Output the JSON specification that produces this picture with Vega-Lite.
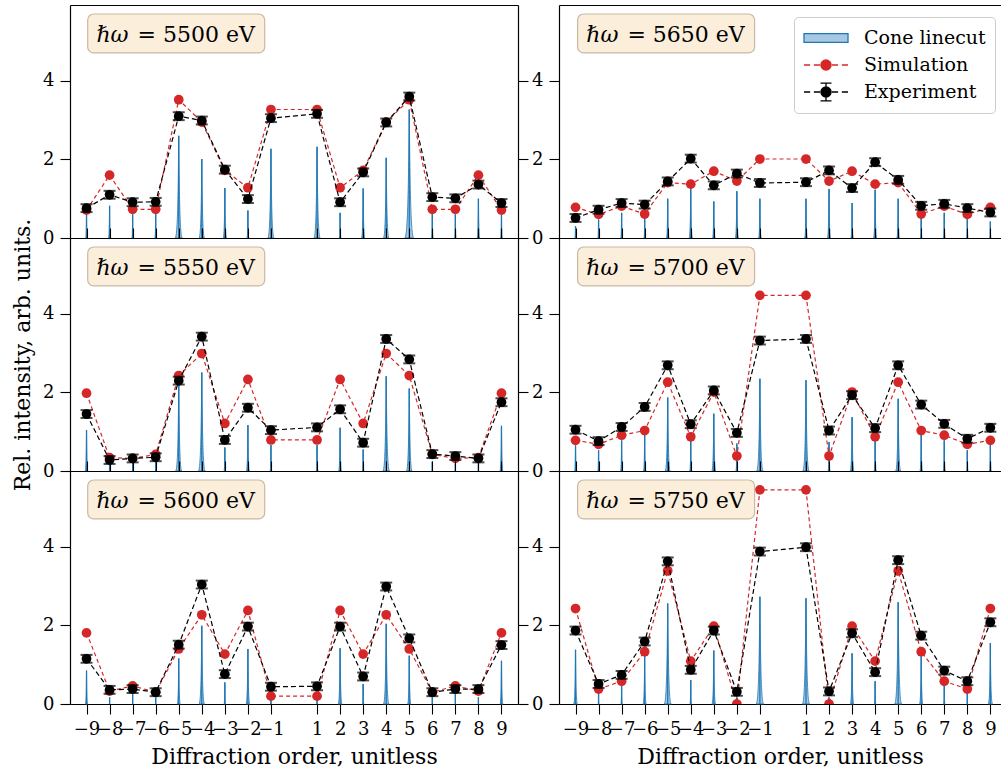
{
"$schema": "https://vega.github.io/schema/vega-lite/v6.json",
"padding": {"left": 11, "top": 5, "right": 0, "bottom": 0},
"autosize": {"type": "pad"},
"bounds": "flush",
"spacing": {"row": 0, "column": 41},
"columns": 2,
"data": {"values": [
{"p":5500,"o":-9,"c":0.62,"s":0.71,"e":0.76,"err":0.1},
{"p":5500,"o":-8,"c":0.82,"s":1.60,"e":1.10,"err":0.1},
{"p":5500,"o":-7,"c":0.60,"s":0.73,"e":0.91,"err":0.1},
{"p":5500,"o":-6,"c":0.65,"s":0.73,"e":0.92,"err":0.1},
{"p":5500,"o":-5,"c":2.60,"s":3.52,"e":3.10,"err":0.1},
{"p":5500,"o":-4,"c":2.01,"s":2.95,"e":2.99,"err":0.1},
{"p":5500,"o":-3,"c":1.27,"s":1.72,"e":1.74,"err":0.1},
{"p":5500,"o":-2,"c":0.70,"s":1.28,"e":0.99,"err":0.1},
{"p":5500,"o":-1,"c":2.27,"s":3.27,"e":3.05,"err":0.1},
{"p":5500,"o":1,"c":2.32,"s":3.27,"e":3.16,"err":0.1},
{"p":5500,"o":2,"c":0.64,"s":1.28,"e":0.91,"err":0.1},
{"p":5500,"o":3,"c":1.26,"s":1.72,"e":1.67,"err":0.1},
{"p":5500,"o":4,"c":2.04,"s":2.95,"e":2.94,"err":0.1},
{"p":5500,"o":5,"c":3.27,"s":3.52,"e":3.60,"err":0.1},
{"p":5500,"o":6,"c":0.64,"s":0.73,"e":1.04,"err":0.1},
{"p":5500,"o":7,"c":0.60,"s":0.73,"e":1.01,"err":0.1},
{"p":5500,"o":8,"c":1.00,"s":1.60,"e":1.36,"err":0.1},
{"p":5500,"o":9,"c":0.60,"s":0.71,"e":0.89,"err":0.1},
{"p":5650,"o":-9,"c":0.30,"s":0.78,"e":0.51,"err":0.1},
{"p":5650,"o":-8,"c":0.47,"s":0.60,"e":0.72,"err":0.1},
{"p":5650,"o":-7,"c":0.64,"s":0.81,"e":0.89,"err":0.1},
{"p":5650,"o":-6,"c":0.51,"s":0.61,"e":0.85,"err":0.1},
{"p":5650,"o":-5,"c":1.00,"s":1.41,"e":1.44,"err":0.1},
{"p":5650,"o":-4,"c":1.27,"s":1.37,"e":2.02,"err":0.1},
{"p":5650,"o":-3,"c":0.93,"s":1.70,"e":1.34,"err":0.1},
{"p":5650,"o":-2,"c":1.19,"s":1.45,"e":1.64,"err":0.1},
{"p":5650,"o":-1,"c":1.00,"s":2.01,"e":1.40,"err":0.1},
{"p":5650,"o":1,"c":1.00,"s":2.01,"e":1.42,"err":0.1},
{"p":5650,"o":2,"c":1.25,"s":1.45,"e":1.72,"err":0.1},
{"p":5650,"o":3,"c":0.89,"s":1.70,"e":1.27,"err":0.1},
{"p":5650,"o":4,"c":1.23,"s":1.37,"e":1.93,"err":0.1},
{"p":5650,"o":5,"c":1.00,"s":1.41,"e":1.48,"err":0.1},
{"p":5650,"o":6,"c":0.55,"s":0.61,"e":0.82,"err":0.1},
{"p":5650,"o":7,"c":0.64,"s":0.81,"e":0.87,"err":0.1},
{"p":5650,"o":8,"c":0.51,"s":0.60,"e":0.76,"err":0.1},
{"p":5650,"o":9,"c":0.42,"s":0.78,"e":0.65,"err":0.1},
{"p":5550,"o":-9,"c":1.04,"s":1.98,"e":1.45,"err":0.1},
{"p":5550,"o":-8,"c":0.20,"s":0.34,"e":0.28,"err":0.1},
{"p":5550,"o":-7,"c":0.20,"s":0.32,"e":0.32,"err":0.1},
{"p":5550,"o":-6,"c":0.24,"s":0.42,"e":0.35,"err":0.1},
{"p":5550,"o":-5,"c":2.25,"s":2.43,"e":2.30,"err":0.1},
{"p":5550,"o":-4,"c":2.51,"s":2.99,"e":3.42,"err":0.1},
{"p":5550,"o":-3,"c":0.60,"s":1.21,"e":0.79,"err":0.1},
{"p":5550,"o":-2,"c":1.17,"s":2.33,"e":1.61,"err":0.1},
{"p":5550,"o":-1,"c":0.66,"s":0.79,"e":1.04,"err":0.1},
{"p":5550,"o":1,"c":0.66,"s":0.79,"e":1.11,"err":0.1},
{"p":5550,"o":2,"c":1.10,"s":2.33,"e":1.57,"err":0.1},
{"p":5550,"o":3,"c":0.55,"s":1.21,"e":0.72,"err":0.1},
{"p":5550,"o":4,"c":2.41,"s":2.99,"e":3.36,"err":0.1},
{"p":5550,"o":5,"c":2.10,"s":2.43,"e":2.84,"err":0.1},
{"p":5550,"o":6,"c":0.24,"s":0.42,"e":0.43,"err":0.1},
{"p":5550,"o":7,"c":0.20,"s":0.32,"e":0.38,"err":0.1},
{"p":5550,"o":8,"c":0.20,"s":0.34,"e":0.32,"err":0.1},
{"p":5550,"o":9,"c":1.15,"s":1.98,"e":1.75,"err":0.1},
{"p":5700,"o":-9,"c":0.65,"s":0.78,"e":1.05,"err":0.1},
{"p":5700,"o":-8,"c":0.53,"s":0.68,"e":0.76,"err":0.1},
{"p":5700,"o":-7,"c":0.78,"s":0.91,"e":1.12,"err":0.1},
{"p":5700,"o":-6,"c":0.95,"s":1.03,"e":1.63,"err":0.1},
{"p":5700,"o":-5,"c":1.87,"s":2.26,"e":2.69,"err":0.1},
{"p":5700,"o":-4,"c":0.78,"s":0.87,"e":1.19,"err":0.1},
{"p":5700,"o":-3,"c":1.46,"s":2.01,"e":2.05,"err":0.1},
{"p":5700,"o":-2,"c":0.70,"s":0.38,"e":0.97,"err":0.1},
{"p":5700,"o":-1,"c":2.35,"s":4.47,"e":3.32,"err":0.1},
{"p":5700,"o":1,"c":2.31,"s":4.47,"e":3.36,"err":0.1},
{"p":5700,"o":2,"c":0.74,"s":0.38,"e":1.03,"err":0.1},
{"p":5700,"o":3,"c":1.37,"s":2.01,"e":1.93,"err":0.1},
{"p":5700,"o":4,"c":0.78,"s":0.87,"e":1.09,"err":0.1},
{"p":5700,"o":5,"c":1.84,"s":2.26,"e":2.69,"err":0.1},
{"p":5700,"o":6,"c":0.95,"s":1.03,"e":1.69,"err":0.1},
{"p":5700,"o":7,"c":0.78,"s":0.91,"e":1.20,"err":0.1},
{"p":5700,"o":8,"c":0.53,"s":0.68,"e":0.82,"err":0.1},
{"p":5700,"o":9,"c":0.74,"s":0.78,"e":1.10,"err":0.1},
{"p":5600,"o":-9,"c":0.85,"s":1.81,"e":1.15,"err":0.1},
{"p":5600,"o":-8,"c":0.17,"s":0.33,"e":0.36,"err":0.1},
{"p":5600,"o":-7,"c":0.25,"s":0.46,"e":0.38,"err":0.1},
{"p":5600,"o":-6,"c":0.17,"s":0.30,"e":0.30,"err":0.1},
{"p":5600,"o":-5,"c":1.16,"s":1.40,"e":1.51,"err":0.1},
{"p":5600,"o":-4,"c":1.99,"s":2.27,"e":3.04,"err":0.1},
{"p":5600,"o":-3,"c":0.55,"s":1.27,"e":0.76,"err":0.1},
{"p":5600,"o":-2,"c":1.40,"s":2.38,"e":1.97,"err":0.1},
{"p":5600,"o":-1,"c":0.17,"s":0.20,"e":0.44,"err":0.1},
{"p":5600,"o":1,"c":0.17,"s":0.20,"e":0.45,"err":0.1},
{"p":5600,"o":2,"c":1.42,"s":2.38,"e":1.97,"err":0.1},
{"p":5600,"o":3,"c":0.51,"s":1.27,"e":0.70,"err":0.1},
{"p":5600,"o":4,"c":2.04,"s":2.27,"e":2.99,"err":0.1},
{"p":5600,"o":5,"c":1.23,"s":1.40,"e":1.67,"err":0.1},
{"p":5600,"o":6,"c":0.17,"s":0.30,"e":0.30,"err":0.1},
{"p":5600,"o":7,"c":0.25,"s":0.46,"e":0.38,"err":0.1},
{"p":5600,"o":8,"c":0.17,"s":0.33,"e":0.38,"err":0.1},
{"p":5600,"o":9,"c":1.10,"s":1.81,"e":1.50,"err":0.1},
{"p":5750,"o":-9,"c":1.38,"s":2.43,"e":1.87,"err":0.1},
{"p":5750,"o":-8,"c":0.30,"s":0.38,"e":0.51,"err":0.1},
{"p":5750,"o":-7,"c":0.51,"s":0.58,"e":0.74,"err":0.1},
{"p":5750,"o":-6,"c":1.23,"s":1.33,"e":1.59,"err":0.1},
{"p":5750,"o":-5,"c":2.56,"s":3.39,"e":3.63,"err":0.1},
{"p":5750,"o":-4,"c":0.61,"s":1.09,"e":0.87,"err":0.1},
{"p":5750,"o":-3,"c":1.36,"s":1.98,"e":1.87,"err":0.1},
{"p":5750,"o":-2,"c":0.17,"s":0.0,"e":0.31,"err":0.1},
{"p":5750,"o":-1,"c":2.73,"s":5.45,"e":3.88,"err":0.1},
{"p":5750,"o":1,"c":2.69,"s":5.45,"e":3.99,"err":0.1},
{"p":5750,"o":2,"c":0.17,"s":0.0,"e":0.32,"err":0.1},
{"p":5750,"o":3,"c":1.29,"s":1.98,"e":1.80,"err":0.1},
{"p":5750,"o":4,"c":0.58,"s":1.09,"e":0.81,"err":0.1},
{"p":5750,"o":5,"c":2.59,"s":3.39,"e":3.66,"err":0.1},
{"p":5750,"o":6,"c":1.27,"s":1.33,"e":1.74,"err":0.1},
{"p":5750,"o":7,"c":0.51,"s":0.58,"e":0.85,"err":0.1},
{"p":5750,"o":8,"c":0.34,"s":0.38,"e":0.58,"err":0.1},
{"p":5750,"o":9,"c":1.55,"s":2.43,"e":2.08,"err":0.1}
]},
"concat": [
{"width":448,"height":233,
 "transform":[{"filter":"datum.p == 5500"}],
 "layer":[
  {"mark":{"type":"point","shape":"M-0.07,2C-0.03,2,-0.012,1.4,0,0C0.012,1.4,0.03,2,0.07,2Z","filled":true,"fill":"#a6c8e3","stroke":"#1f77b4","strokeWidth":0.8,"opacity":1},
   "encoding":{"x":{"field":"o","type":"quantitative","scale":{"domain":[-9.5,9.5],"nice":false,"zero":false},"axis":{"orient":"bottom","ticks":false,"labels":false,"title":null}},
     "y":{"field":"c","type":"quantitative","scale":{"domain":[0,5.93],"nice":false,"zero":false},"axis":{"orient":"left","values":[0,2,4],"title":null}},
     "size":{"field":"c","type":"quantitative","scale":{"type":"pow","exponent":2,"domain":[0,6],"range":[0,55577]},"legend":null}}},
  {"mark":{"type":"bar","color":"#1f77b4","size":1.3},
   "encoding":{"x":{"field":"o","type":"quantitative","scale":{"domain":[-9.5,9.5],"nice":false,"zero":false},"axis":{"orient":"top","ticks":false,"labels":false,"title":null}},
     "y":{"field":"c","type":"quantitative","scale":{"domain":[0,5.93],"nice":false,"zero":false},"axis":{"orient":"right","values":[0,2,4],"labels":false,"title":null}}}},
  {"mark":{"type":"line","color":"#d62728","strokeWidth":1.2,"strokeDash":[4,3]},
   "encoding":{"x":{"field":"o","type":"quantitative","axis":null},"y":{"field":"s","type":"quantitative","axis":null}}},
  {"mark":{"type":"point","filled":true,"color":"#d62728","size":95,"opacity":1,"clip":true},
   "encoding":{"x":{"field":"o","type":"quantitative","axis":null},"y":{"field":"s","type":"quantitative","axis":null}}},
  {"mark":{"type":"line","color":"black","strokeWidth":1.2,"strokeDash":[5,3]},
   "encoding":{"x":{"field":"o","type":"quantitative","axis":null},"y":{"field":"e","type":"quantitative","axis":null}}},
  {"mark":{"type":"errorbar","color":"black","thickness":2,"ticks":{"size":12,"thickness":2,"color":"black"}},
   "encoding":{"x":{"field":"o","type":"quantitative","axis":null},"y":{"field":"e","type":"quantitative","axis":null},"yError":{"field":"err"}}},
  {"mark":{"type":"point","filled":true,"color":"black","size":95,"opacity":1},
   "encoding":{"x":{"field":"o","type":"quantitative","axis":null},"y":{"field":"e","type":"quantitative","axis":null}}},
  {"data":{"values":[{"p":5500,"t":"= 5500 eV"}]},
   "mark":{"type":"point","shape":"M-0.932,-0.22H0.932A0.068,0.068,0,0,1,1,-0.152V0.152A0.068,0.068,0,0,1,0.932,0.22H-0.932A0.068,0.068,0,0,1,-1,0.152V-0.152A0.068,0.068,0,0,1,-0.932,-0.22Z","size":31329,"filled":true,"fill":"#fbeedb","stroke":"#c9b9a6","strokeWidth":1.2,"opacity":1},
   "encoding":{"x":{"datum":-5.11,"type":"quantitative","axis":null},"y":{"datum":5.205,"type":"quantitative","axis":null}}},
  {"data":{"values":[{"p":5500,"t":"= 5500 eV"}]},
   "mark":{"type":"text","text":"ℏω","font":"DejaVu Serif","fontStyle":"italic","fontSize":22,"align":"left","baseline":"alphabetic","color":"black"},
   "encoding":{"x":{"datum":-8.57,"type":"quantitative","axis":null},"y":{"datum":5.0,"type":"quantitative","axis":null}}},
  {"data":{"values":[{"p":5500,"t":"= 5500 eV"}]},
   "mark":{"type":"text","font":"DejaVu Serif","fontSize":22,"align":"left","baseline":"alphabetic","color":"black"},
   "encoding":{"x":{"datum":-6.79,"type":"quantitative","axis":null},"y":{"datum":5.0,"type":"quantitative","axis":null},"text":{"field":"t"}}}
 ],
 "resolve":{"axis":{"x":"independent","y":"independent"}}},

{"width":442,"height":233,
 "transform":[{"filter":"datum.p == 5650"}],
 "layer":[
  {"mark":{"type":"point","shape":"M-0.07,2C-0.03,2,-0.012,1.4,0,0C0.012,1.4,0.03,2,0.07,2Z","filled":true,"fill":"#a6c8e3","stroke":"#1f77b4","strokeWidth":0.8,"opacity":1},
   "encoding":{"x":{"field":"o","type":"quantitative","scale":{"domain":[-9.5,9.245],"nice":false,"zero":false},"axis":{"orient":"bottom","ticks":false,"labels":false,"title":null}},
     "y":{"field":"c","type":"quantitative","scale":{"domain":[0,5.93],"nice":false,"zero":false},"axis":{"orient":"left","values":[0,2,4],"title":null}},
     "size":{"field":"c","type":"quantitative","scale":{"type":"pow","exponent":2,"domain":[0,6],"range":[0,55577]},"legend":null}}},
  {"mark":{"type":"bar","color":"#1f77b4","size":1.3},
   "encoding":{"x":{"field":"o","type":"quantitative","scale":{"domain":[-9.5,9.245],"nice":false,"zero":false},"axis":{"orient":"top","ticks":false,"labels":false,"title":null}},
     "y":{"field":"c","type":"quantitative","scale":{"domain":[0,5.93],"nice":false,"zero":false},"axis":null}}},
  {"mark":{"type":"line","color":"#d62728","strokeWidth":1.2,"strokeDash":[4,3]},
   "encoding":{"x":{"field":"o","type":"quantitative","axis":null},"y":{"field":"s","type":"quantitative","axis":null}}},
  {"mark":{"type":"point","filled":true,"color":"#d62728","size":95,"opacity":1,"clip":true},
   "encoding":{"x":{"field":"o","type":"quantitative","axis":null},"y":{"field":"s","type":"quantitative","axis":null}}},
  {"mark":{"type":"line","color":"black","strokeWidth":1.2,"strokeDash":[5,3]},
   "encoding":{"x":{"field":"o","type":"quantitative","axis":null},"y":{"field":"e","type":"quantitative","axis":null}}},
  {"mark":{"type":"errorbar","color":"black","thickness":2,"ticks":{"size":12,"thickness":2,"color":"black"}},
   "encoding":{"x":{"field":"o","type":"quantitative","axis":null},"y":{"field":"e","type":"quantitative","axis":null},"yError":{"field":"err"}}},
  {"mark":{"type":"point","filled":true,"color":"black","size":95,"opacity":1},
   "encoding":{"x":{"field":"o","type":"quantitative","axis":null},"y":{"field":"e","type":"quantitative","axis":null}}},
  {"mark":{"type":"point","filled":true,"opacity":0},
   "encoding":{
     "fill":{"datum":"Cone linecut","type":"nominal","scale":{"domain":["Cone linecut","Simulation","Experiment"],"range":["#a6c8e3","#d62728","black"]},"legend":{"title":null,"orient":"none","legendX":724,"legendY":12,"padding":9,"rowPadding":5,"symbolSize":484,"labelOffset":37,"labelFont":"DejaVu Serif","labelFontSize":19,"labelColor":"black","strokeColor":"#cccccc","fillColor":"rgba(255,255,255,0.85)","cornerRadius":4,"symbolStrokeWidth":1.3,"symbolOpacity":1}},
     "stroke":{"datum":"Cone linecut","type":"nominal","scale":{"domain":["Cone linecut","Simulation","Experiment"],"range":["#1f77b4","#d62728","black"]},"legend":{"title":null,"orient":"none","legendX":724,"legendY":12,"padding":9,"rowPadding":5,"symbolSize":484,"labelOffset":37,"labelFont":"DejaVu Serif","labelFontSize":19,"labelColor":"black","strokeColor":"#cccccc","fillColor":"rgba(255,255,255,0.85)","cornerRadius":4,"symbolStrokeWidth":1.3,"symbolOpacity":1}},
     "shape":{"datum":"Cone linecut","type":"nominal","scale":{"domain":["Cone linecut","Simulation","Experiment"],"range":["M-1,-0.4H3V0.4H-1Z","M-1,0H-0.44M-0.1,0H0.46M1.54,0H2.1M2.44,0H3M0.54,0A0.46,0.46,0,1,1,1.46,0A0.46,0.46,0,1,1,0.54,0Z","M-1,0H-0.44M-0.1,0H0.46M1.54,0H2.1M2.44,0H3M1,-0.8V0.8M0.5,-0.8H1.5M0.5,0.8H1.5M0.54,0A0.46,0.46,0,1,1,1.46,0A0.46,0.46,0,1,1,0.54,0Z"]},"legend":{"title":null,"orient":"none","legendX":724,"legendY":12,"padding":9,"rowPadding":5,"symbolSize":484,"labelOffset":37,"labelFont":"DejaVu Serif","labelFontSize":19,"labelColor":"black","strokeColor":"#cccccc","fillColor":"rgba(255,255,255,0.85)","cornerRadius":4,"symbolStrokeWidth":1.3,"symbolOpacity":1}}}},
  {"mark":{"type":"point","filled":true,"opacity":0},
   "encoding":{"fill":{"datum":"Simulation","type":"nominal"},"stroke":{"datum":"Simulation","type":"nominal"},"shape":{"datum":"Simulation","type":"nominal"}}},
  {"mark":{"type":"point","filled":true,"opacity":0},
   "encoding":{"fill":{"datum":"Experiment","type":"nominal"},"stroke":{"datum":"Experiment","type":"nominal"},"shape":{"datum":"Experiment","type":"nominal"}}},
  {"data":{"values":[{"p":5650,"t":"= 5650 eV"}]},
   "mark":{"type":"point","shape":"M-0.932,-0.22H0.932A0.068,0.068,0,0,1,1,-0.152V0.152A0.068,0.068,0,0,1,0.932,0.22H-0.932A0.068,0.068,0,0,1,-1,0.152V-0.152A0.068,0.068,0,0,1,-0.932,-0.22Z","size":31329,"filled":true,"fill":"#fbeedb","stroke":"#c9b9a6","strokeWidth":1.2,"opacity":1},
   "encoding":{"x":{"datum":-5.07,"type":"quantitative","axis":null},"y":{"datum":5.205,"type":"quantitative","axis":null}}},
  {"data":{"values":[{"p":5650,"t":"= 5650 eV"}]},
   "mark":{"type":"text","text":"ℏω","font":"DejaVu Serif","fontStyle":"italic","fontSize":22,"align":"left","baseline":"alphabetic","color":"black"},
   "encoding":{"x":{"datum":-8.53,"type":"quantitative","axis":null},"y":{"datum":5.0,"type":"quantitative","axis":null}}},
  {"data":{"values":[{"p":5650,"t":"= 5650 eV"}]},
   "mark":{"type":"text","font":"DejaVu Serif","fontSize":22,"align":"left","baseline":"alphabetic","color":"black"},
   "encoding":{"x":{"datum":-6.75,"type":"quantitative","axis":null},"y":{"datum":5.0,"type":"quantitative","axis":null},"text":{"field":"t"}}}
 ],
 "resolve":{"axis":{"x":"independent","y":"independent"}}},

{"width":448,"height":233,
 "transform":[{"filter":"datum.p == 5550"}],
 "layer":[
  {"mark":{"type":"point","shape":"M-0.07,2C-0.03,2,-0.012,1.4,0,0C0.012,1.4,0.03,2,0.07,2Z","filled":true,"fill":"#a6c8e3","stroke":"#1f77b4","strokeWidth":0.8,"opacity":1},
   "encoding":{"x":{"field":"o","type":"quantitative","scale":{"domain":[-9.5,9.5],"nice":false,"zero":false},"axis":{"orient":"bottom","ticks":false,"labels":false,"title":null}},
     "y":{"field":"c","type":"quantitative","scale":{"domain":[0,5.93],"nice":false,"zero":false},"axis":{"orient":"left","values":[0,2,4],"title":"Rel. intensity, arb. units."}},
     "size":{"field":"c","type":"quantitative","scale":{"type":"pow","exponent":2,"domain":[0,6],"range":[0,55577]},"legend":null}}},
  {"mark":{"type":"bar","color":"#1f77b4","size":1.3},
   "encoding":{"x":{"field":"o","type":"quantitative","scale":{"domain":[-9.5,9.5],"nice":false,"zero":false},"axis":{"orient":"top","values":[-9,-8,-7,-6,-5,-4,-3,-2,-1,1,2,3,4,5,6,7,8,9],"labels":false,"title":null}},
     "y":{"field":"c","type":"quantitative","scale":{"domain":[0,5.93],"nice":false,"zero":false},"axis":{"orient":"right","values":[0,2,4],"labels":false,"title":null}}}},
  {"mark":{"type":"line","color":"#d62728","strokeWidth":1.2,"strokeDash":[4,3]},
   "encoding":{"x":{"field":"o","type":"quantitative","axis":null},"y":{"field":"s","type":"quantitative","axis":null}}},
  {"mark":{"type":"point","filled":true,"color":"#d62728","size":95,"opacity":1,"clip":true},
   "encoding":{"x":{"field":"o","type":"quantitative","axis":null},"y":{"field":"s","type":"quantitative","axis":null}}},
  {"mark":{"type":"line","color":"black","strokeWidth":1.2,"strokeDash":[5,3]},
   "encoding":{"x":{"field":"o","type":"quantitative","axis":null},"y":{"field":"e","type":"quantitative","axis":null}}},
  {"mark":{"type":"errorbar","color":"black","thickness":2,"ticks":{"size":12,"thickness":2,"color":"black"}},
   "encoding":{"x":{"field":"o","type":"quantitative","axis":null},"y":{"field":"e","type":"quantitative","axis":null},"yError":{"field":"err"}}},
  {"mark":{"type":"point","filled":true,"color":"black","size":95,"opacity":1},
   "encoding":{"x":{"field":"o","type":"quantitative","axis":null},"y":{"field":"e","type":"quantitative","axis":null}}},
  {"data":{"values":[{"p":5550,"t":"= 5550 eV"}]},
   "mark":{"type":"point","shape":"M-0.932,-0.22H0.932A0.068,0.068,0,0,1,1,-0.152V0.152A0.068,0.068,0,0,1,0.932,0.22H-0.932A0.068,0.068,0,0,1,-1,0.152V-0.152A0.068,0.068,0,0,1,-0.932,-0.22Z","size":31329,"filled":true,"fill":"#fbeedb","stroke":"#c9b9a6","strokeWidth":1.2,"opacity":1},
   "encoding":{"x":{"datum":-5.11,"type":"quantitative","axis":null},"y":{"datum":5.205,"type":"quantitative","axis":null}}},
  {"data":{"values":[{"p":5550,"t":"= 5550 eV"}]},
   "mark":{"type":"text","text":"ℏω","font":"DejaVu Serif","fontStyle":"italic","fontSize":22,"align":"left","baseline":"alphabetic","color":"black"},
   "encoding":{"x":{"datum":-8.57,"type":"quantitative","axis":null},"y":{"datum":5.0,"type":"quantitative","axis":null}}},
  {"data":{"values":[{"p":5550,"t":"= 5550 eV"}]},
   "mark":{"type":"text","font":"DejaVu Serif","fontSize":22,"align":"left","baseline":"alphabetic","color":"black"},
   "encoding":{"x":{"datum":-6.79,"type":"quantitative","axis":null},"y":{"datum":5.0,"type":"quantitative","axis":null},"text":{"field":"t"}}}
 ],
 "resolve":{"axis":{"x":"independent","y":"independent"}}},

{"width":442,"height":233,
 "transform":[{"filter":"datum.p == 5700"}],
 "layer":[
  {"mark":{"type":"point","shape":"M-0.07,2C-0.03,2,-0.012,1.4,0,0C0.012,1.4,0.03,2,0.07,2Z","filled":true,"fill":"#a6c8e3","stroke":"#1f77b4","strokeWidth":0.8,"opacity":1},
   "encoding":{"x":{"field":"o","type":"quantitative","scale":{"domain":[-9.5,9.245],"nice":false,"zero":false},"axis":{"orient":"bottom","ticks":false,"labels":false,"title":null}},
     "y":{"field":"c","type":"quantitative","scale":{"domain":[0,5.93],"nice":false,"zero":false},"axis":{"orient":"left","values":[0,2,4],"title":null}},
     "size":{"field":"c","type":"quantitative","scale":{"type":"pow","exponent":2,"domain":[0,6],"range":[0,55577]},"legend":null}}},
  {"mark":{"type":"bar","color":"#1f77b4","size":1.3},
   "encoding":{"x":{"field":"o","type":"quantitative","scale":{"domain":[-9.5,9.245],"nice":false,"zero":false},"axis":{"orient":"top","values":[-9,-8,-7,-6,-5,-4,-3,-2,-1,1,2,3,4,5,6,7,8,9],"labels":false,"title":null}},
     "y":{"field":"c","type":"quantitative","scale":{"domain":[0,5.93],"nice":false,"zero":false},"axis":null}}},
  {"mark":{"type":"line","color":"#d62728","strokeWidth":1.2,"strokeDash":[4,3]},
   "encoding":{"x":{"field":"o","type":"quantitative","axis":null},"y":{"field":"s","type":"quantitative","axis":null}}},
  {"mark":{"type":"point","filled":true,"color":"#d62728","size":95,"opacity":1,"clip":true},
   "encoding":{"x":{"field":"o","type":"quantitative","axis":null},"y":{"field":"s","type":"quantitative","axis":null}}},
  {"mark":{"type":"line","color":"black","strokeWidth":1.2,"strokeDash":[5,3]},
   "encoding":{"x":{"field":"o","type":"quantitative","axis":null},"y":{"field":"e","type":"quantitative","axis":null}}},
  {"mark":{"type":"errorbar","color":"black","thickness":2,"ticks":{"size":12,"thickness":2,"color":"black"}},
   "encoding":{"x":{"field":"o","type":"quantitative","axis":null},"y":{"field":"e","type":"quantitative","axis":null},"yError":{"field":"err"}}},
  {"mark":{"type":"point","filled":true,"color":"black","size":95,"opacity":1},
   "encoding":{"x":{"field":"o","type":"quantitative","axis":null},"y":{"field":"e","type":"quantitative","axis":null}}},
  {"data":{"values":[{"p":5700,"t":"= 5700 eV"}]},
   "mark":{"type":"point","shape":"M-0.932,-0.22H0.932A0.068,0.068,0,0,1,1,-0.152V0.152A0.068,0.068,0,0,1,0.932,0.22H-0.932A0.068,0.068,0,0,1,-1,0.152V-0.152A0.068,0.068,0,0,1,-0.932,-0.22Z","size":31329,"filled":true,"fill":"#fbeedb","stroke":"#c9b9a6","strokeWidth":1.2,"opacity":1},
   "encoding":{"x":{"datum":-5.07,"type":"quantitative","axis":null},"y":{"datum":5.205,"type":"quantitative","axis":null}}},
  {"data":{"values":[{"p":5700,"t":"= 5700 eV"}]},
   "mark":{"type":"text","text":"ℏω","font":"DejaVu Serif","fontStyle":"italic","fontSize":22,"align":"left","baseline":"alphabetic","color":"black"},
   "encoding":{"x":{"datum":-8.53,"type":"quantitative","axis":null},"y":{"datum":5.0,"type":"quantitative","axis":null}}},
  {"data":{"values":[{"p":5700,"t":"= 5700 eV"}]},
   "mark":{"type":"text","font":"DejaVu Serif","fontSize":22,"align":"left","baseline":"alphabetic","color":"black"},
   "encoding":{"x":{"datum":-6.75,"type":"quantitative","axis":null},"y":{"datum":5.0,"type":"quantitative","axis":null},"text":{"field":"t"}}}
 ],
 "resolve":{"axis":{"x":"independent","y":"independent"}}},

{"width":448,"height":233,
 "transform":[{"filter":"datum.p == 5600"}],
 "layer":[
  {"mark":{"type":"point","shape":"M-0.07,2C-0.03,2,-0.012,1.4,0,0C0.012,1.4,0.03,2,0.07,2Z","filled":true,"fill":"#a6c8e3","stroke":"#1f77b4","strokeWidth":0.8,"opacity":1},
   "encoding":{"x":{"field":"o","type":"quantitative","scale":{"domain":[-9.5,9.5],"nice":false,"zero":false},"axis":{"orient":"bottom","values":[-9,-8,-7,-6,-5,-4,-3,-2,-1,1,2,3,4,5,6,7,8,9],"title":"Diffraction order, unitless"}},
     "y":{"field":"c","type":"quantitative","scale":{"domain":[0,5.93],"nice":false,"zero":false},"axis":{"orient":"left","values":[0,2,4],"title":null}},
     "size":{"field":"c","type":"quantitative","scale":{"type":"pow","exponent":2,"domain":[0,6],"range":[0,55577]},"legend":null}}},
  {"mark":{"type":"bar","color":"#1f77b4","size":1.3},
   "encoding":{"x":{"field":"o","type":"quantitative","scale":{"domain":[-9.5,9.5],"nice":false,"zero":false},"axis":{"orient":"top","values":[-9,-8,-7,-6,-5,-4,-3,-2,-1,1,2,3,4,5,6,7,8,9],"labels":false,"title":null}},
     "y":{"field":"c","type":"quantitative","scale":{"domain":[0,5.93],"nice":false,"zero":false},"axis":{"orient":"right","values":[0,2,4],"labels":false,"title":null}}}},
  {"mark":{"type":"line","color":"#d62728","strokeWidth":1.2,"strokeDash":[4,3]},
   "encoding":{"x":{"field":"o","type":"quantitative","axis":null},"y":{"field":"s","type":"quantitative","axis":null}}},
  {"mark":{"type":"point","filled":true,"color":"#d62728","size":95,"opacity":1,"clip":true},
   "encoding":{"x":{"field":"o","type":"quantitative","axis":null},"y":{"field":"s","type":"quantitative","axis":null}}},
  {"mark":{"type":"line","color":"black","strokeWidth":1.2,"strokeDash":[5,3]},
   "encoding":{"x":{"field":"o","type":"quantitative","axis":null},"y":{"field":"e","type":"quantitative","axis":null}}},
  {"mark":{"type":"errorbar","color":"black","thickness":2,"ticks":{"size":12,"thickness":2,"color":"black"}},
   "encoding":{"x":{"field":"o","type":"quantitative","axis":null},"y":{"field":"e","type":"quantitative","axis":null},"yError":{"field":"err"}}},
  {"mark":{"type":"point","filled":true,"color":"black","size":95,"opacity":1},
   "encoding":{"x":{"field":"o","type":"quantitative","axis":null},"y":{"field":"e","type":"quantitative","axis":null}}},
  {"data":{"values":[{"p":5600,"t":"= 5600 eV"}]},
   "mark":{"type":"point","shape":"M-0.932,-0.22H0.932A0.068,0.068,0,0,1,1,-0.152V0.152A0.068,0.068,0,0,1,0.932,0.22H-0.932A0.068,0.068,0,0,1,-1,0.152V-0.152A0.068,0.068,0,0,1,-0.932,-0.22Z","size":31329,"filled":true,"fill":"#fbeedb","stroke":"#c9b9a6","strokeWidth":1.2,"opacity":1},
   "encoding":{"x":{"datum":-5.11,"type":"quantitative","axis":null},"y":{"datum":5.205,"type":"quantitative","axis":null}}},
  {"data":{"values":[{"p":5600,"t":"= 5600 eV"}]},
   "mark":{"type":"text","text":"ℏω","font":"DejaVu Serif","fontStyle":"italic","fontSize":22,"align":"left","baseline":"alphabetic","color":"black"},
   "encoding":{"x":{"datum":-8.57,"type":"quantitative","axis":null},"y":{"datum":5.0,"type":"quantitative","axis":null}}},
  {"data":{"values":[{"p":5600,"t":"= 5600 eV"}]},
   "mark":{"type":"text","font":"DejaVu Serif","fontSize":22,"align":"left","baseline":"alphabetic","color":"black"},
   "encoding":{"x":{"datum":-6.79,"type":"quantitative","axis":null},"y":{"datum":5.0,"type":"quantitative","axis":null},"text":{"field":"t"}}}
 ],
 "resolve":{"axis":{"x":"independent","y":"independent"}}},

{"width":442,"height":233,
 "transform":[{"filter":"datum.p == 5750"}],
 "layer":[
  {"mark":{"type":"point","shape":"M-0.07,2C-0.03,2,-0.012,1.4,0,0C0.012,1.4,0.03,2,0.07,2Z","filled":true,"fill":"#a6c8e3","stroke":"#1f77b4","strokeWidth":0.8,"opacity":1},
   "encoding":{"x":{"field":"o","type":"quantitative","scale":{"domain":[-9.5,9.245],"nice":false,"zero":false},"axis":{"orient":"bottom","values":[-9,-8,-7,-6,-5,-4,-3,-2,-1,1,2,3,4,5,6,7,8,9],"title":"Diffraction order, unitless"}},
     "y":{"field":"c","type":"quantitative","scale":{"domain":[0,5.93],"nice":false,"zero":false},"axis":{"orient":"left","values":[0,2,4],"title":null}},
     "size":{"field":"c","type":"quantitative","scale":{"type":"pow","exponent":2,"domain":[0,6],"range":[0,55577]},"legend":null}}},
  {"mark":{"type":"bar","color":"#1f77b4","size":1.3},
   "encoding":{"x":{"field":"o","type":"quantitative","scale":{"domain":[-9.5,9.245],"nice":false,"zero":false},"axis":{"orient":"top","values":[-9,-8,-7,-6,-5,-4,-3,-2,-1,1,2,3,4,5,6,7,8,9],"labels":false,"title":null}},
     "y":{"field":"c","type":"quantitative","scale":{"domain":[0,5.93],"nice":false,"zero":false},"axis":null}}},
  {"mark":{"type":"line","color":"#d62728","strokeWidth":1.2,"strokeDash":[4,3]},
   "encoding":{"x":{"field":"o","type":"quantitative","axis":null},"y":{"field":"s","type":"quantitative","axis":null}}},
  {"mark":{"type":"point","filled":true,"color":"#d62728","size":95,"opacity":1,"clip":true},
   "encoding":{"x":{"field":"o","type":"quantitative","axis":null},"y":{"field":"s","type":"quantitative","axis":null}}},
  {"mark":{"type":"line","color":"black","strokeWidth":1.2,"strokeDash":[5,3]},
   "encoding":{"x":{"field":"o","type":"quantitative","axis":null},"y":{"field":"e","type":"quantitative","axis":null}}},
  {"mark":{"type":"errorbar","color":"black","thickness":2,"ticks":{"size":12,"thickness":2,"color":"black"}},
   "encoding":{"x":{"field":"o","type":"quantitative","axis":null},"y":{"field":"e","type":"quantitative","axis":null},"yError":{"field":"err"}}},
  {"mark":{"type":"point","filled":true,"color":"black","size":95,"opacity":1},
   "encoding":{"x":{"field":"o","type":"quantitative","axis":null},"y":{"field":"e","type":"quantitative","axis":null}}},
  {"data":{"values":[{"p":5750,"t":"= 5750 eV"}]},
   "mark":{"type":"point","shape":"M-0.932,-0.22H0.932A0.068,0.068,0,0,1,1,-0.152V0.152A0.068,0.068,0,0,1,0.932,0.22H-0.932A0.068,0.068,0,0,1,-1,0.152V-0.152A0.068,0.068,0,0,1,-0.932,-0.22Z","size":31329,"filled":true,"fill":"#fbeedb","stroke":"#c9b9a6","strokeWidth":1.2,"opacity":1},
   "encoding":{"x":{"datum":-5.07,"type":"quantitative","axis":null},"y":{"datum":5.205,"type":"quantitative","axis":null}}},
  {"data":{"values":[{"p":5750,"t":"= 5750 eV"}]},
   "mark":{"type":"text","text":"ℏω","font":"DejaVu Serif","fontStyle":"italic","fontSize":22,"align":"left","baseline":"alphabetic","color":"black"},
   "encoding":{"x":{"datum":-8.53,"type":"quantitative","axis":null},"y":{"datum":5.0,"type":"quantitative","axis":null}}},
  {"data":{"values":[{"p":5750,"t":"= 5750 eV"}]},
   "mark":{"type":"text","font":"DejaVu Serif","fontSize":22,"align":"left","baseline":"alphabetic","color":"black"},
   "encoding":{"x":{"datum":-6.75,"type":"quantitative","axis":null},"y":{"datum":5.0,"type":"quantitative","axis":null},"text":{"field":"t"}}}
 ],
 "resolve":{"axis":{"x":"independent","y":"independent"}}}
],
"config": {
  "font": "DejaVu Serif",
  "view": {"stroke": null},
  "axis": {"labelFont": "DejaVu Serif", "labelFontSize": 18, "labelColor": "black", "titleFont": "DejaVu Serif", "titleFontSize": 22, "titleFontWeight": "normal", "titleColor": "black", "tickColor": "black", "domainColor": "black", "domainWidth": 1.2, "tickWidth": 1.1, "tickSize": 10, "labelPadding": 6, "titlePadding": 8, "grid": false, "labelOverlap": false, "labelFlush": false, "labelBound": false}
}
}
